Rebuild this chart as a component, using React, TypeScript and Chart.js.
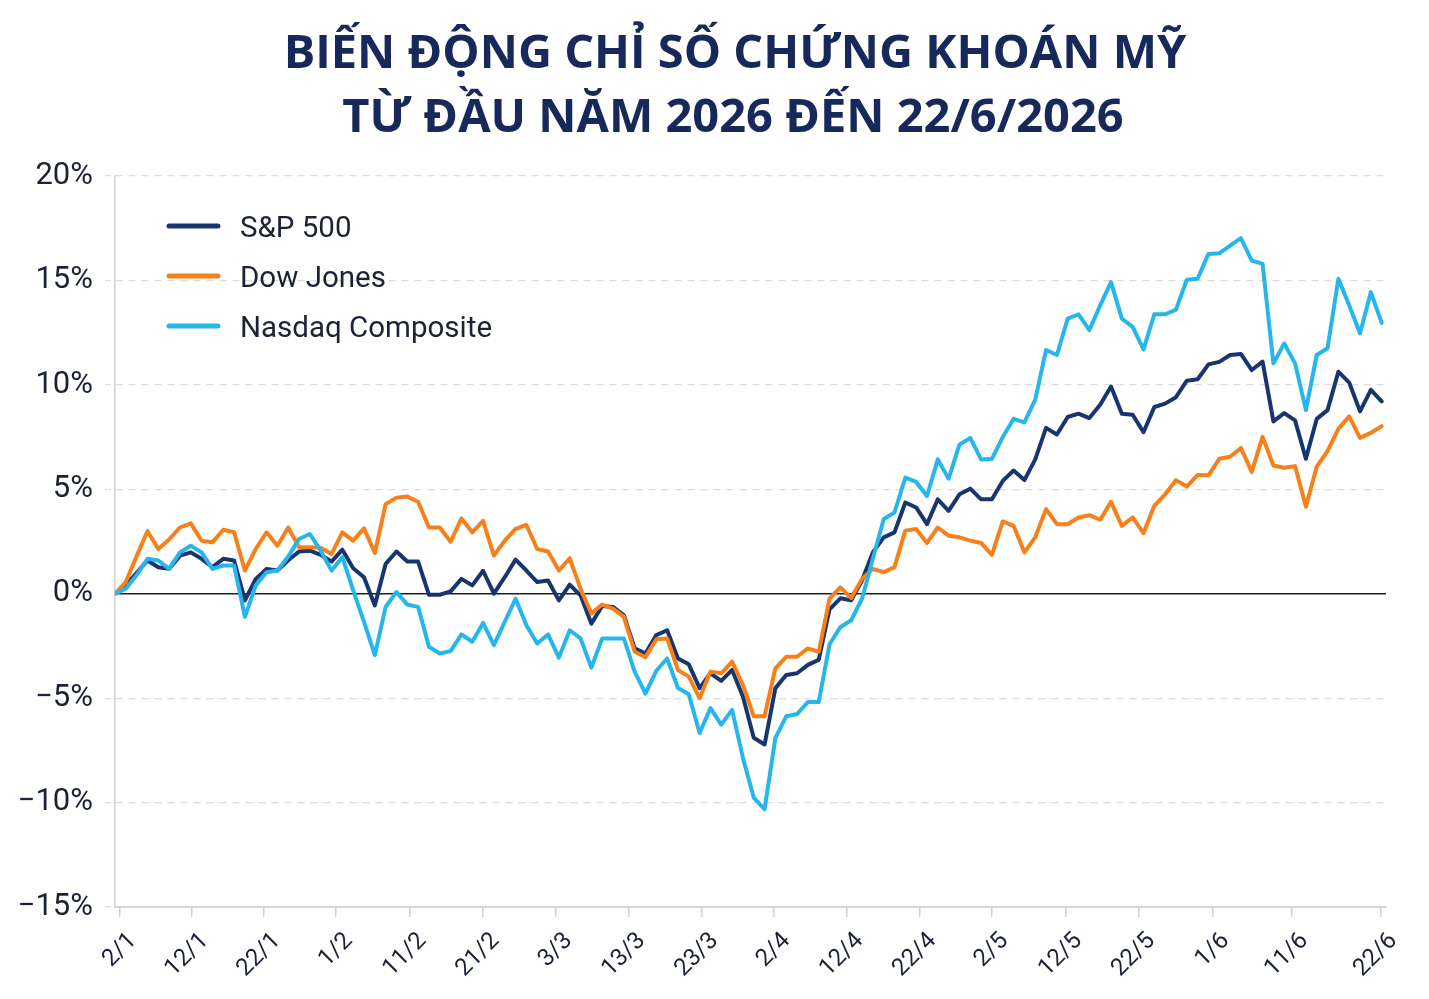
import React, { useEffect, useRef } from 'react';
import { Chart, registerables } from 'chart.js';

Chart.register(...registerables);

const titleLines = ['BIẾN ĐỘNG CHỈ SỐ CHỨNG KHOÁN MỸ', 'TỪ ĐẦU NĂM 2026 ĐẾN 22/6/2026'];
const seriesNames = ['S&P 500', 'Dow Jones', 'Nasdaq Composite'];
const seriesColors = ['#17366f', '#f7801a', '#27b6ec'];

// x tick labels and their positions (in trading-day index units)
const xTickLabels = ['2/1', '12/1', '22/1', '1/2', '11/2', '21/2', '3/3', '13/3', '23/3', '2/4', '12/4', '22/4', '2/5', '12/5', '22/5', '1/6', '11/6', '22/6'];
const xTickPositions = [0.46, 7.11, 13.76, 20.41, 27.24, 33.98, 40.72, 47.46, 54.2, 60.85, 67.59, 74.33, 80.98, 87.81, 94.55, 101.39, 108.68, 116.9];

const yMin = -15;
const yMax = 20;
const yStep = 5;

// % change since start of year, one value per trading day
const sp500 = [
  0, 0.4, 1.0, 1.59, 1.27, 1.19, 1.82, 1.98, 1.67, 1.27,
  1.67, 1.59, -0.32, 0.71, 1.19, 1.11, 1.6, 2.02, 2.06, 1.86,
  1.54, 2.11, 1.22, 0.79, -0.56, 1.43, 2.02, 1.54, 1.54, -0.05,
  -0.05, 0.11, 0.71, 0.4, 1.1, 0, 0.79, 1.63, 1.11, 0.56,
  0.63, -0.32, 0.43, -0.08, -1.43, -0.59, -0.63, -1.03, -2.62, -2.86,
  -1.98, -1.75, -3.1, -3.38, -4.52, -3.81, -4.17, -3.65, -4.92, -6.9,
  -7.22, -4.52, -3.89, -3.81, -3.41, -3.17, -0.75, -0.22, -0.32, 0.63,
  1.98, 2.7, 2.94, 4.37, 4.13, 3.33, 4.52, 3.97, 4.76, 5.03,
  4.52, 4.52, 5.4, 5.9, 5.44, 6.43, 7.94, 7.62, 8.46, 8.62,
  8.41, 9.05, 9.92, 8.62, 8.57, 7.73, 8.94, 9.1, 9.41, 10.2,
  10.27, 10.98, 11.1, 11.43, 11.48, 10.71, 11.11, 8.25, 8.65, 8.3,
  6.46, 8.37, 8.79, 10.63, 10.11, 8.73, 9.76, 9.21,
];

const dowJones = [
  0, 0.56, 1.8, 3.0, 2.14, 2.6, 3.17, 3.37, 2.54, 2.46,
  3.06, 2.94, 1.11, 2.14, 2.94, 2.3, 3.17, 2.22, 2.22, 2.2,
  1.9, 2.94, 2.54, 3.13, 1.95, 4.29, 4.6, 4.65, 4.4, 3.17,
  3.17, 2.49, 3.6, 2.94, 3.49, 1.82, 2.54, 3.1, 3.29, 2.14,
  2.02, 1.11, 1.7, 0.24, -0.95, -0.52, -0.71, -1.11, -2.78, -3.04,
  -2.18, -2.14, -3.65, -3.97, -5.0, -3.73, -3.81, -3.25, -4.37, -5.87,
  -5.87, -3.57, -3.02, -3.02, -2.62, -2.78, -0.24, 0.3, -0.21, 0.71,
  1.19, 1.03, 1.27, 3.02, 3.1, 2.43, 3.17, 2.78, 2.7, 2.54,
  2.43, 1.86, 3.46, 3.25, 1.98, 2.7, 4.05, 3.33, 3.33, 3.65,
  3.76, 3.54, 4.4, 3.25, 3.65, 2.9, 4.21, 4.76, 5.44, 5.13,
  5.69, 5.67, 6.46, 6.56, 6.98, 5.83, 7.51, 6.14, 6.03, 6.11,
  4.17, 6.08, 6.83, 7.89, 8.49, 7.46, 7.7, 8.02,
];

const nasdaq = [
  0, 0.24, 0.9, 1.67, 1.59, 1.19, 1.98, 2.3, 1.98, 1.19,
  1.35, 1.35, -1.11, 0.4, 1.03, 1.11, 1.78, 2.62, 2.86, 2.06,
  1.11, 1.75, 0.16, -1.35, -2.94, -0.63, 0.08, -0.52, -0.63, -2.54,
  -2.86, -2.75, -1.95, -2.3, -1.4, -2.46, -1.35, -0.24, -1.51, -2.38,
  -1.95, -3.06, -1.75, -2.14, -3.54, -2.14, -2.14, -2.14, -3.73, -4.78,
  -3.69, -3.1, -4.52, -4.81, -6.67, -5.48, -6.27, -5.56, -7.86, -9.76,
  -10.32, -6.9, -5.87, -5.76, -5.19, -5.19, -2.42, -1.6, -1.27, -0.24,
  1.67, 3.57, 3.89, 5.56, 5.35, 4.68, 6.43, 5.51, 7.14, 7.46,
  6.43, 6.46, 7.5, 8.37, 8.2, 9.29, 11.67, 11.43, 13.17, 13.38,
  12.62, 13.81, 14.92, 13.17, 12.78, 11.7, 13.38, 13.38, 13.6, 15.03,
  15.08, 16.27, 16.3, 16.67, 17.03, 15.95, 15.79, 11.03, 11.98, 11.03,
  8.79, 11.43, 11.75, 15.08, 13.81, 12.46, 14.44, 12.97,
];

const allSeries = [sp500, dowJones, nasdaq];

const TEXT_COLOR = '#1c2235';
const TITLE_COLOR = '#17295a';

const overlayPlugin = {
  id: 'overlay',
  beforeDatasetsDraw(chart: any) {
    const { ctx, chartArea, scales } = chart;
    const y0 = scales.y.getPixelForValue(0);
    ctx.save();
    ctx.strokeStyle = '#1e1e1e';
    ctx.lineWidth = 1.5;
    ctx.beginPath();
    ctx.moveTo(chartArea.left, y0);
    ctx.lineTo(chartArea.right, y0);
    ctx.stroke();
    ctx.restore();
  },
  afterDraw(chart: any) {
    const { ctx } = chart;
    ctx.save();
    // Title
    ctx.fillStyle = TITLE_COLOR;
    ctx.textAlign = 'center';
    ctx.textBaseline = 'alphabetic';
    ctx.font = 'bold 47px "Open Sans"';
    ctx.fillText(titleLines[0], 735, 68);
    ctx.fillText(titleLines[1], 733, 132);
    // Legend
    ctx.textAlign = 'left';
    ctx.font = '29.5px Roboto';
    chart.data.datasets.forEach((ds: any, i: number) => {
      const yLine = 226 + 50 * i;
      ctx.strokeStyle = ds.borderColor;
      ctx.lineWidth = 5;
      ctx.lineCap = 'round';
      ctx.beginPath();
      ctx.moveTo(169, yLine);
      ctx.lineTo(218, yLine);
      ctx.stroke();
      ctx.fillStyle = TEXT_COLOR;
      ctx.fillText(ds.label, 240, yLine + 10.5);
    });
    ctx.restore();
  },
};

export default function App() {
  const ref = useRef<HTMLCanvasElement>(null);

  useEffect(() => {
    if (!ref.current) return;
    const datasets = allSeries.map((series, i) => ({
      label: seriesNames[i],
      data: series.map((v, idx) => ({ x: idx, y: v })),
      borderColor: seriesColors[i],
      backgroundColor: seriesColors[i],
      borderWidth: 4,
      pointRadius: 0,
      tension: 0,
      borderJoinStyle: 'round' as const,
      borderCapStyle: 'round' as const,
      order: 2 - i,
    }));

    const chart = new Chart(ref.current, {
      type: 'line',
      data: { datasets },
      plugins: [overlayPlugin],
      options: {
        animation: false,
        responsive: false,
        layout: { padding: { top: 176, right: 43, bottom: 0, left: 0 } },
        plugins: {
          legend: { display: false },
          title: { display: false },
          tooltip: { enabled: false },
        },
        scales: {
          x: {
            type: 'linear',
            min: 0,
            max: 117.4,
            afterFit: (s: any) => {
              s.height = 92;
            },
            afterBuildTicks: (axis: any) => {
              axis.ticks = xTickPositions.map((v) => ({ value: v }));
            },
            grid: {
              display: true,
              drawOnChartArea: false,
              drawTicks: true,
              tickLength: 10,
              color: '#d0d0d0',
              lineWidth: 1.5,
            },
            border: { display: true, color: '#d6d6d6', width: 2 },
            ticks: {
              autoSkip: false,
              maxRotation: 45,
              minRotation: 45,
              padding: 10,
              labelOffset: 13,
              color: TEXT_COLOR,
              font: { family: 'Roboto', size: 24 },
              callback: (_v: any, index: number) => xTickLabels[index],
            },
          },
          y: {
            min: yMin,
            max: yMax,
            afterFit: (s: any) => {
              s.width = 115;
            },
            grid: {
              drawTicks: true,
              tickLength: 10,
              lineWidth: 1.2,
              color: (c: any) => (c.tick && c.tick.value === 0 ? 'rgba(0,0,0,0)' : '#dcdcdc'),
              tickColor: (c: any) => (c.tick && c.tick.value === 0 ? 'rgba(0,0,0,0)' : '#dcdcdc'),
              tickBorderDash: [6, 5],
            },
            border: { display: true, color: '#d2d2d2', width: 1.5, dash: [7, 6] },
            ticks: {
              stepSize: yStep,
              padding: 12,
              color: TEXT_COLOR,
              font: { family: 'Roboto', size: 31 },
              callback: (v: any) => (v < 0 ? '\u2212' + Math.abs(v) : String(v)) + '%',
            },
          },
        },
      },
    });
    return () => chart.destroy();
  }, []);

  return (
    <div style={{ position: 'absolute', left: 0, top: 0, width: 1429, height: 999, background: '#ffffff' }}>
      <canvas ref={ref} width={1429} height={999} style={{ display: 'block', width: 1429, height: 999 }} />
    </div>
  );
}
